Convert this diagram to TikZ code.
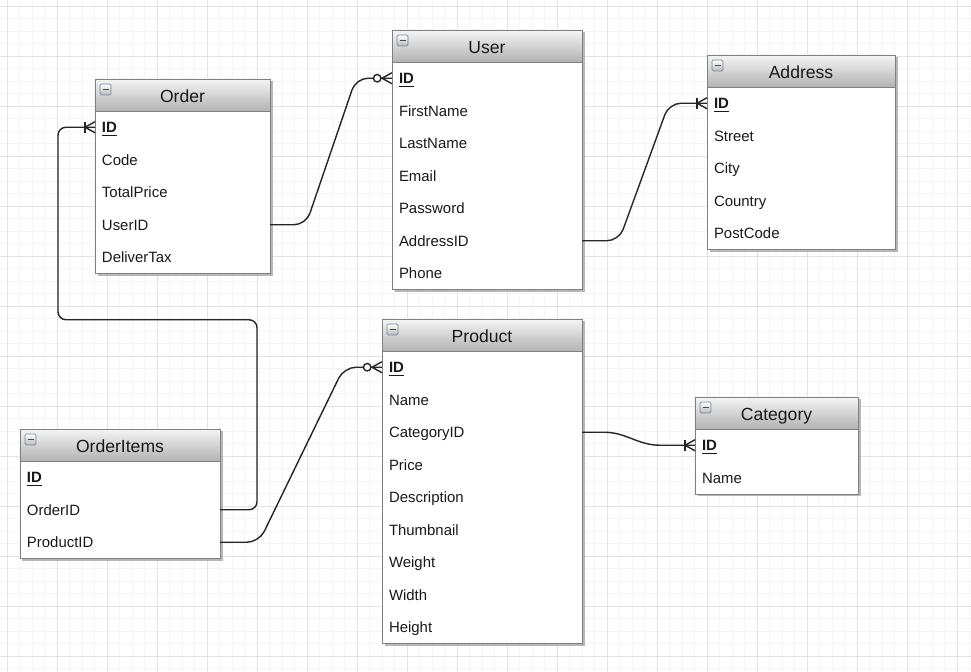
\documentclass[tikz,border=0pt]{standalone}
\usepackage{fontspec}
\setmainfont{Liberation Sans}
\usetikzlibrary{calc,positioning,fit,backgrounds,shadows}
\pgfdeclarelayer{grid}
\pgfsetlayers{grid,background,main}
\definecolor{iconedge}{RGB}{120,135,155}

\tikzset{
  gridminor/.style={black!4, line width=0.45pt},
  gridmajor/.style={black!11, line width=0.5pt},
  tablehead/.style={rectangle, draw=black!50, line width=0.5pt, top color=black!4, bottom color=black!30,
    minimum height=0.64cm, inner sep=0pt, outer sep=0pt, text height=8.5pt, text depth=0pt,
    font=\fontsize{10}{12}\selectfont, text=black!90},
  tablerow/.style={rectangle, align=left, inner xsep=0.14cm, inner ysep=0pt, outer sep=0pt,
    minimum height=0.65cm, text height=6.1pt, text depth=0pt, font=\fontsize{8.5}{10}\selectfont, text=black!90},
  tablebody/.style={rectangle, draw=black!50, line width=0.5pt, fill=white, inner sep=0pt, outer sep=0pt,
    drop shadow={shadow xshift=0.05cm, shadow yshift=-0.05cm, fill=black!40, opacity=0.7}},
  minusbox/.style={rectangle, draw=iconedge, line width=0.4pt, rounded corners=0.8pt,
    top color=white, bottom color=black!28, minimum size=0.22cm, inner sep=0pt},
  minusdash/.style={black!70, line width=1pt},
  conn/.style={black!85, line width=0.8pt},
  onemany/.pic={
    \draw[conn] (-10,-5.5) -- (-10,5.5);
    \draw[conn] (0,-5.5) -- (-10,0) -- (0,5.5);
  },
  zeromany/.pic={
    \draw[conn] (0,-5.5) -- (-10,0) -- (0,5.5);
    \draw[conn, fill=white] (-14.8,0) circle (0.075cm);
  }
}

% #1 name, #2 x, #3 y, #4 width (px), #5 title, #6 rows
\newcommand{\ertable}[6]{%
  \pgfmathsetlengthmacro\tabwd{#4*0.02cm}
  \pgfmathsetlengthmacro\rowwd{(#4-14)*0.02cm}
  \node[tablehead, minimum width=\tabwd, anchor=north west] (#1) at (#2,#3) {#5};
  \foreach \txt [count=\i] in {#6} {
    \node[tablerow, text width=\rowwd, anchor=north west] (#1-\i) at ($(#1.south west)+(0,{(\i-1)*32.5})$) {\txt};
    \xdef\nrows{\i}
  }
  \begin{scope}[on background layer]
    \node[tablebody, fit=(#1)(#1-\nrows)] {};
  \end{scope}
  \node[minusbox] (#1-icon) at ($(#1.north west)+(10.5,10.5)$) {};
  \draw[minusdash] ($(#1-icon.center)+(-3,0)$) -- ($(#1-icon.center)+(3,0)$);
}

\begin{document}
\begin{tikzpicture}[x=0.02cm, y=-0.02cm]
\useasboundingbox (0,0) rectangle (971,672);

% background grid
\begin{pgfonlayer}{grid}
  \fill[white] (0,0) rectangle (971,672);
  \foreach \x in {-5.5,7,...,975} \draw[gridminor] (\x,0) -- (\x,672);
  \foreach \y in {-6.5,6,...,675} \draw[gridminor] (0,\y) -- (971,\y);
  \foreach \x in {7,57,...,957} \draw[gridmajor] (\x,0) -- (\x,672);
  \foreach \y in {6,56,...,656} \draw[gridmajor] (0,\y) -- (971,\y);
\end{pgfonlayer}

% tables
\ertable{order}{95}{79}{175}{Order}{{\textbf{\underline{ID}}}, Code, TotalPrice, UserID, DeliverTax}
\ertable{user}{392}{30}{190}{User}{{\textbf{\underline{ID}}}, FirstName, LastName, Email, Password, AddressID, Phone}
\ertable{address}{707}{55}{188}{Address}{{\textbf{\underline{ID}}}, Street, City, Country, PostCode}
\ertable{product}{382}{319}{200}{Product}{{\textbf{\underline{ID}}}, Name, CategoryID, Price, Description, Thumbnail, Weight, Width, Height}
\ertable{category}{695}{397}{163}{Category}{{\textbf{\underline{ID}}}, Name}
\ertable{orderitems}{20}{429}{200}{OrderItems}{{\textbf{\underline{ID}}}, OrderID, ProductID}

% relations
\draw[conn, rounded corners=0.24cm] (order-4.east) -- ++(36,0) -- ([xshift=-0.72cm]user-1.west) -- (user-1.west);
\pic at (user-1.west) {zeromany};
\draw[conn, rounded corners=0.24cm] (user-6.east) -- ++(37,0) -- ([xshift=-0.76cm]address-1.west) -- (address-1.west);
\pic at (address-1.west) {onemany};
\draw[conn, rounded corners=0.16cm] (orderitems-2.east) -- ++(37,0) -- ++(0,-190) -| ([xshift=-0.74cm]order-1.west) -- (order-1.west);
\pic at (order-1.west) {onemany};
\draw[conn, rounded corners=0.24cm] (orderitems-3.east) -- ++(39,0) -- ([xshift=-0.76cm]product-1.west) -- (product-1.west);
\pic at (product-1.west) {zeromany};
\draw[conn] (product-3.east) -- ++(22,0) to[out=0,in=180] ([xshift=-0.7cm]category-1.west) -- (category-1.west);
\pic at (category-1.west) {onemany};
\end{tikzpicture}
\end{document}
